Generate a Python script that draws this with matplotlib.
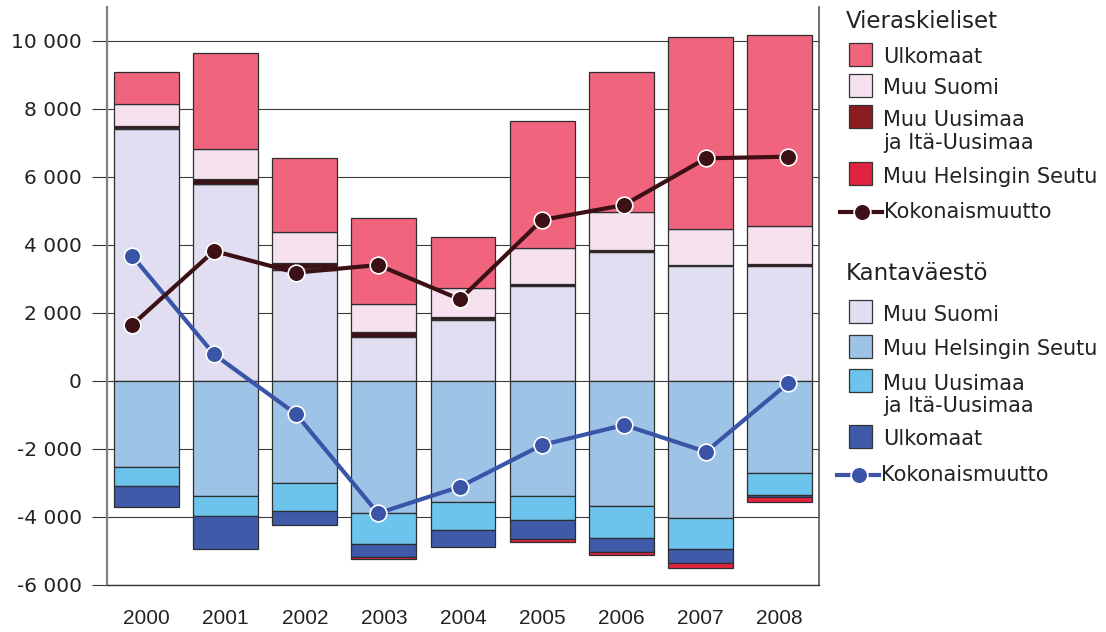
import numpy as np
import matplotlib
matplotlib.use('Agg')
import matplotlib.pyplot as plt
from matplotlib.patches import Rectangle
from matplotlib.lines import Line2D
import matplotlib.ticker as mticker

plt.rcParams['font.family'] = ['DejaVu Sans']

years = ['2000', '2001', '2002', '2003', '2004', '2005', '2006', '2007', '2008']

# Kantaväestö (native-language population), net migration by area
k_muu_suomi = [7410, 5780, 3265, 1300, 1795, 2800, 3785, 3380, 3390]
k_muu_hki = [-2520, -3373, -3000, -3882, -3569, -3382, -3676, -4039, -2716]
k_muu_uusimaa = [-568, -588, -814, -902, -813, -716, -932, -912, -637]
k_ulkomaat = [-618, -980, -421, -383, -500, -549, -431, -412, -49]
k_total = [3686, 785, -971, -3892, -3108, -1882, -1294, -2079, -68]

# Vieraskieliset (foreign-language population)
v_muu_hki = [40, 0, 50, -70, 30, -80, -90, -150, -170]
v_muu_uusimaa = [60, 160, 150, 150, 60, 40, 70, 40, 60]
v_muu_suomi = [625, 884, 909, 815, 841, 1081, 1106, 1041, 1109]
v_ulkomaat = [945, 2814, 2194, 2538, 1519, 3726, 4118, 5666, 5627]
v_total = [1647, 3824, 3186, 3412, 2402, 4735, 5176, 6549, 6598]

C_K_MS = '#e0def0'
C_K_HKI = '#9dc3e7'
C_K_UUS = '#6cc3ec'
C_K_UL = '#3f5aa9'
C_K_LINE = '#3a55a8'
C_V_HKI = '#e0233f'
C_V_UUS = '#8b1c20'
C_V_UUS_BAR = '#3d1216'
C_V_MS = '#f6e1ee'
C_V_UL = '#f0647e'
C_V_LINE = '#3d1015'

W, H = 1106, 632
fig = plt.figure(figsize=(W / 100, H / 100), dpi=100)
ax = fig.add_axes([107 / W, 1 - 585 / H, (819 - 107) / W, (585 - 7) / H])

x = np.arange(len(years))
series = [
    (k_muu_suomi, C_K_MS),
    (k_muu_hki, C_K_HKI),
    (k_muu_uusimaa, C_K_UUS),
    (k_ulkomaat, C_K_UL),
    (v_muu_hki, C_V_HKI),
    (v_muu_uusimaa, C_V_UUS_BAR),
    (v_muu_suomi, C_V_MS),
    (v_ulkomaat, C_V_UL),
]
pos_bottom = np.zeros(len(years))
neg_bottom = np.zeros(len(years))
for vals, col in series:
    vals = np.array(vals, dtype=float)
    bottom = np.where(vals >= 0, pos_bottom, neg_bottom)
    ax.bar(x, vals, bottom=bottom, width=0.82, color=col,
           edgecolor='#2e2e2e', linewidth=0.9, zorder=3)
    pos_bottom += np.clip(vals, 0, None)
    neg_bottom += np.clip(vals, None, 0)

ax.set_xlim(-0.5, 8.5)
ax.set_ylim(-6000, 11000)
ax.set_yticks(np.arange(-6000, 10001, 2000))
ax.yaxis.set_major_formatter(mticker.FuncFormatter(
    lambda v, p: f'{int(v):,}'.replace(',', ' ')))
ax.set_xticks(x)
ax.set_xticklabels(years, fontfamily='Liberation Sans', fontsize=15)
ax.tick_params(axis='x', length=0, pad=17, colors='#222222')
ax.tick_params(axis='y', direction='out', length=11, width=0.8,
               color='#333333', pad=7, labelsize=14.5, labelcolor='#222222')
ax.grid(axis='y', color='#3a3a3a', linewidth=0.8, zorder=0)
ax.set_axisbelow(True)
ax.spines['top'].set_visible(False)
ax.spines['left'].set_color('#808080')
ax.spines['left'].set_linewidth(1.6)
ax.spines['right'].set_color('#555555')
ax.spines['right'].set_linewidth(1.2)
ax.spines['bottom'].set_color('#333333')
ax.spines['bottom'].set_linewidth(1.0)

# lines sit on their own (secondary) category axis, like in the original
ax2 = ax.twiny()
ax2.set_xlim(-0.305, 8.378)
ax2.set_ylim(-6000, 11000)
ax2.axis('off')
ax2.plot(x, k_total, color=C_K_LINE, linewidth=3, marker='o', markersize=12,
         markerfacecolor=C_K_LINE, markeredgecolor='white',
         markeredgewidth=1.2, zorder=5)
ax2.plot(x, v_total, color=C_V_LINE, linewidth=3, marker='o', markersize=12,
         markerfacecolor=C_V_LINE, markeredgecolor='white',
         markeredgewidth=1.2, zorder=6)


# hand-placed legend blocks (pixel coords from top-left)
def fx(px):
    return px / W


def fy(py):
    return 1 - py / H


def patch(px_top, col):
    fig.add_artist(Rectangle((fx(849), fy(px_top + 23)), 23 / W, 23 / H,
                             facecolor=col, edgecolor='#333333',
                             linewidth=0.9, transform=fig.transFigure))


def label(px, py, txt, size=15):
    fig.text(fx(px), fy(py), txt, fontsize=size, color='#222222',
             va='center', ha='left')


def line_item(x0, x1, xm, py, col):
    fig.add_artist(Line2D([fx(x0), fx(x1)], [fy(py), fy(py)], color=col,
                          linewidth=3, transform=fig.transFigure))
    fig.add_artist(Line2D([fx(xm)], [fy(py)], color=col, marker='o',
                          markersize=12, markeredgecolor='white',
                          markeredgewidth=1.2, transform=fig.transFigure))


label(846, 21, 'Vieraskieliset', 16.5)
patch(43, C_V_UL)
label(883, 57, 'Ulkomaat')
patch(74, C_V_MS)
label(883, 88, 'Muu Suomi')
patch(105, C_V_UUS)
label(883, 120, 'Muu Uusimaa')
label(883, 143, 'ja Itä-Uusimaa')
patch(162, C_V_HKI)
label(883, 177, 'Muu Helsingin Seutu')
line_item(840, 882, 862, 212, C_V_LINE)
label(884, 212, 'Kokonaismuutto')

label(846, 274, 'Kantaväestö', 16.5)
patch(300, C_K_MS)
label(883, 315, 'Muu Suomi')
patch(335, C_K_HKI)
label(883, 349, 'Muu Helsingin Seutu')
patch(369, C_K_UUS)
label(883, 384, 'Muu Uusimaa')
label(883, 406, 'ja Itä-Uusimaa')
patch(425, C_K_UL)
label(883, 439, 'Ulkomaat')
line_item(837, 879, 859, 475, C_K_LINE)
label(881, 475, 'Kokonaismuutto')

fig.savefig('out.png', dpi=100)
